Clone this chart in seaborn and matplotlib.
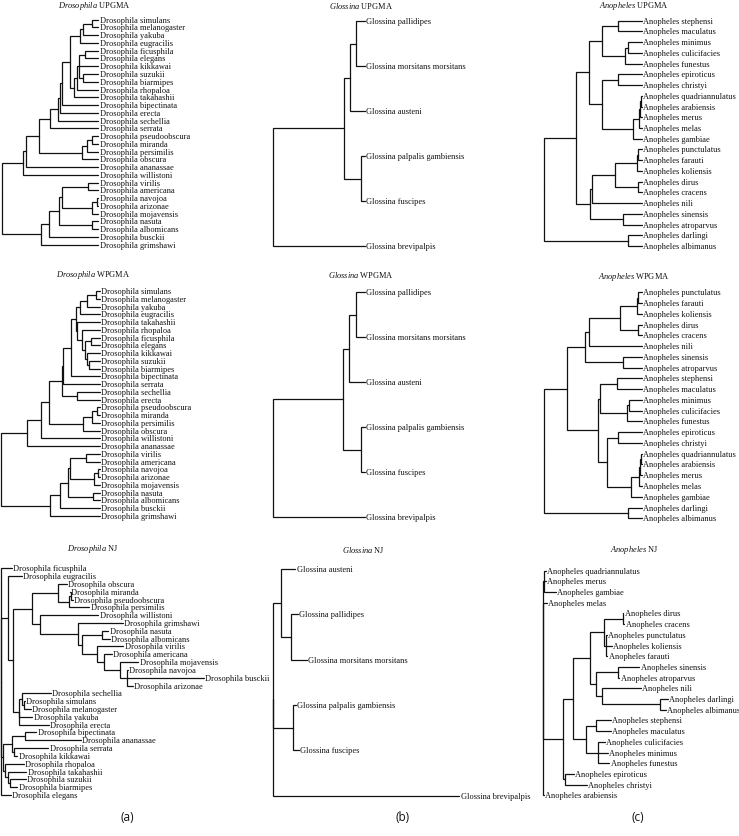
import matplotlib
matplotlib.use("Agg")
import matplotlib.pyplot as plt
import pandas as pd
import seaborn as sns

# ---------------- Drosophila UPGMA ----------------
dros_upgma_leaves = ["simulans", "melanogaster", "yakuba", "eugracilis", "ficusphila", "elegans",
                     "kikkawai", "suzukii", "biarmipes", "rhopaloa", "takahashii", "bipectinata",
                     "erecta", "sechellia", "serrata", "pseudoobscura", "miranda", "persimilis",
                     "obscura", "ananassae", "willistoni", "virilis", "americana", "navojoa",
                     "arizonae", "mojavensis", "nasuta", "albomicans", "busckii", "grimshawi"]
dros_upgma_tips = 295
dros_upgma_clades = [
    ("c1", ["simulans", "melanogaster"], 275), ("c2", ["c1", "yakuba"], 250),
    ("c3", ["c2", "eugracilis"], 240), ("c4", ["ficusphila", "elegans"], 255),
    ("c5", ["suzukii", "biarmipes"], 250), ("c6", ["c4", "kikkawai", "c5"], 238),
    ("c7", ["c6", "rhopaloa"], 230), ("c8", ["c7", "takahashii"], 223),
    ("c9", ["c3", "c8"], 210), ("c10", ["c9", "bipectinata"], 185),
    ("c11", ["c10", "erecta"], 180), ("c12", ["c11", "sechellia"], 175),
    ("c13", ["c12", "serrata"], 150), ("c14", ["pseudoobscura", "miranda"], 275),
    ("c15", ["c14", "persimilis"], 262), ("c16", ["c15", "obscura"], 245),
    ("c17", ["c13", "c16"], 118), ("c18", ["c17", "ananassae"], 78),
    ("c19", ["c18", "willistoni"], 68), ("c20", ["virilis", "americana"], 263),
    ("c21", ["navojoa", "arizonae"], 292), ("c22", ["c21", "mojavensis"], 275),
    ("c23", ["c20", "c22"], 185), ("c24", ["nasuta", "albomicans"], 275),
    ("c25", ["c23", "c24"], 178), ("c26", ["c25", "busckii"], 148),
    ("c27", ["c26", "grimshawi"], 122), ("root", ["c19", "c27"], 5),
]

# ---------------- Drosophila WPGMA ----------------
dros_wpgma_leaves = ["simulans", "melanogaster", "yakuba", "eugracilis", "takahashii", "rhopaloa",
                     "ficusphila", "elegans", "kikkawai", "suzukii", "biarmipes", "bipectinata",
                     "serrata", "sechellia", "erecta", "pseudoobscura", "miranda", "persimilis",
                     "obscura", "willistoni", "ananassae", "virilis", "americana", "navojoa",
                     "arizonae", "mojavensis", "nasuta", "albomicans", "busckii", "grimshawi"]
dros_wpgma_tips = 300
dros_wpgma_clades = [
    ("w1", ["simulans", "melanogaster"], 288), ("w2", ["w1", "yakuba"], 260),
    ("w3", ["w2", "eugracilis"], 240), ("w4", ["ficusphila", "elegans"], 272),
    ("w5", ["suzukii", "biarmipes"], 268), ("w6", ["kikkawai", "w5"], 262),
    ("w7", ["w4", "w6"], 255), ("w8", ["rhopaloa", "w7"], 245),
    ("w9", ["takahashii", "w8"], 232), ("w10", ["w3", "w9"], 228),
    ("w11", ["w10", "bipectinata"], 212), ("w12", ["w11", "serrata"], 190),
    ("w13", ["sechellia", "erecta"], 232), ("w14", ["w12", "w13"], 185),
    ("w15", ["pseudoobscura", "miranda"], 290), ("w16", ["w15", "persimilis"], 275),
    ("w17", ["w16", "obscura"], 248), ("w18", ["w14", "w17"], 148),
    ("w19", ["w18", "willistoni"], 122), ("w20", ["w19", "ananassae"], 82),
    ("w21", ["virilis", "americana"], 258), ("w22", ["navojoa", "arizonae"], 295),
    ("w23", ["w22", "mojavensis"], 282), ("w24", ["w21", "w23"], 210),
    ("w25", ["nasuta", "albomicans"], 280), ("w26", ["w24", "w25"], 205),
    ("w27", ["w26", "busckii"], 180), ("w28", ["w27", "grimshawi"], 150),
    ("root", ["w20", "w28"], 3),
]

# ---------------- Drosophila NJ ----------------
dros_nj_leaves = ["ficusphila", "eugracilis", "obscura", "miranda", "pseudoobscura", "persimilis",
                  "willistoni", "grimshawi", "nasuta", "albomicans", "virilis", "americana",
                  "mojavensis", "navojoa", "busckii", "arizonae", "sechellia", "simulans",
                  "melanogaster", "yakuba", "erecta", "bipectinata", "ananassae", "serrata",
                  "kikkawai", "rhopaloa", "takahashii", "suzukii", "biarmipes", "elegans"]
dros_nj_tips = [35, 65, 200, 210, 218, 268, 295, 368, 325, 330, 370, 335, 415, 383, 612, 398,
                152, 75, 92, 97, 147, 109, 242, 145, 52, 72, 79, 77, 52, 32]
dros_nj_clades = [
    ("n1", ["miranda", "pseudoobscura"], 212), ("n2", ["n1", "persimilis"], 207),
    ("n3", ["obscura", "n2"], 175), ("n4", ["nasuta", "albomicans"], 305),
    ("n5", ["navojoa", "busckii", "arizonae"], 380), ("n6", ["mojavensis", "n5"], 360),
    ("n7", ["americana", "n6"], 312), ("n8", ["virilis", "n7"], 292),
    ("n9", ["n4", "n8"], 245), ("n10", ["grimshawi", "n9"], 235),
    ("n11", ["willistoni", "n10"], 120), ("n12", ["n3", "n11"], 95),
    ("n13", ["simulans", "melanogaster"], 72), ("n14", ["sechellia", "n13"], 67),
    ("n15", ["n14", "yakuba", "erecta"], 57), ("n16", ["n12", "n15"], 38),
    ("n17", ["eugracilis", "n16"], 25), ("n18", ["bipectinata", "ananassae"], 75),
    ("n19", ["serrata", "kikkawai"], 42), ("n20", ["n18", "n19"], 35),
    ("n21", ["suzukii", "biarmipes"], 30), ("n22", ["takahashii", "n21"], 25),
    ("n23", ["rhopaloa", "n22"], 15), ("n24", ["n20", "n23"], 10),
    ("root", ["ficusphila", "n17", "n24", "elegans"], 3),
]

# ---------------- Glossina ----------------
gloss_upgma_leaves = ["pallidipes", "morsitans morsitans", "austeni", "palpalis gambiensis",
                      "fuscipes", "brevipalpis"]
gloss_upgma_tips = 345
gloss_upgma_clades = [
    ("g1", ["pallidipes", "morsitans morsitans"], 318), ("g2", ["g1", "austeni"], 300),
    ("g3", ["palpalis gambiensis", "fuscipes"], 333), ("g4", ["g2", "g3"], 282),
    ("root", ["g4", "brevipalpis"], 70),
]
gloss_wpgma_leaves = gloss_upgma_leaves
gloss_wpgma_tips = 345
gloss_wpgma_clades = [
    ("g1", ["pallidipes", "morsitans morsitans"], 318), ("g2", ["g1", "austeni"], 298),
    ("g3", ["palpalis gambiensis", "fuscipes"], 333), ("g4", ["g2", "g3"], 280),
    ("root", ["g4", "brevipalpis"], 70),
]
gloss_nj_leaves = ["austeni", "pallidipes", "morsitans morsitans", "palpalis gambiensis",
                   "fuscipes", "brevipalpis"]
gloss_nj_tips = [136, 143, 171, 137, 147, 628]
gloss_nj_clades = [
    ("g1", ["pallidipes", "morsitans morsitans"], 122), ("g2", ["austeni", "g1"], 93),
    ("g3", ["palpalis gambiensis", "fuscipes"], 130),
    ("root", ["g2", "g3", "brevipalpis"], 70),
]

# ---------------- Anopheles ----------------
anoph_upgma_leaves = ["stephensi", "maculatus", "minimus", "culicifacies", "funestus", "epiroticus",
                      "christyi", "quadriannulatus", "arabiensis", "merus", "melas", "gambiae",
                      "punctulatus", "farauti", "koliensis", "dirus", "cracens", "nili",
                      "sinensis", "atroparvus", "darlingi", "albimanus"]
anoph_upgma_tips = 455
anoph_upgma_clades = [
    ("a1", ["stephensi", "maculatus"], 385), ("a2", ["minimus", "culicifacies"], 415),
    ("a3", ["a2", "funestus"], 405), ("a4", ["a1", "a3"], 337),
    ("a5", ["epiroticus", "christyi"], 385), ("a6", ["quadriannulatus", "arabiensis"], 453),
    ("a7", ["a6", "merus"], 450), ("a8", ["a7", "melas"], 447),
    ("a9", ["a8", "gambiae"], 428), ("a10", ["a5", "a9"], 337),
    ("a11", ["a4", "a10"], 298), ("a12", ["punctulatus", "farauti"], 444),
    ("a13", ["a12", "koliensis"], 441), ("a14", ["dirus", "cracens"], 445),
    ("a15", ["a13", "a14"], 375), ("a16", ["a15", "nili"], 305),
    ("a17", ["sinensis", "atroparvus"], 398), ("a18", ["a16", "a17"], 300),
    ("a19", ["a11", "a18"], 258), ("a20", ["darlingi", "albimanus"], 415),
    ("root", ["a19", "a20"], 163),
]
anoph_wpgma_leaves = ["punctulatus", "farauti", "koliensis", "dirus", "cracens", "nili", "sinensis",
                      "atroparvus", "stephensi", "maculatus", "minimus", "culicifacies", "funestus",
                      "epiroticus", "christyi", "quadriannulatus", "arabiensis", "merus", "melas",
                      "gambiae", "darlingi", "albimanus"]
anoph_wpgma_tips = 455
anoph_wpgma_clades = [
    ("b1", ["punctulatus", "farauti"], 444), ("b2", ["b1", "koliensis"], 441),
    ("b3", ["dirus", "cracens"], 445), ("b4", ["b2", "b3"], 390),
    ("b5", ["b4", "nili"], 298), ("b6", ["sinensis", "atroparvus"], 398),
    ("b7", ["b5", "b6"], 285), ("b8", ["stephensi", "maculatus"], 380),
    ("b9", ["minimus", "culicifacies"], 418), ("b10", ["b9", "funestus"], 410),
    ("b11", ["b8", "b10"], 330), ("b12", ["epiroticus", "christyi"], 385),
    ("b13", ["quadriannulatus", "arabiensis"], 453), ("b14", ["b13", "merus"], 450),
    ("b15", ["b14", "melas"], 447), ("b16", ["b15", "gambiae"], 422),
    ("b17", ["b12", "b16"], 352), ("b18", ["b11", "b17"], 325),
    ("b19", ["b7", "b18"], 232), ("b20", ["darlingi", "albimanus"], 415),
    ("root", ["b19", "b20"], 163),
]
anoph_nj_leaves = ["quadriannulatus", "merus", "gambiae", "melas", "dirus", "cracens", "punctulatus",
                   "koliensis", "farauti", "sinensis", "atroparvus", "nili", "darlingi", "albimanus",
                   "stephensi", "maculatus", "culicifacies", "minimus", "funestus", "epiroticus",
                   "christyi", "arabiensis"]
anoph_nj_tips = [168, 168, 198, 170, 400, 403, 350, 366, 352, 448, 388, 453, 533, 527,
                 363, 363, 345, 353, 358, 251, 290, 162]
anoph_nj_clades = [
    ("q1", ["quadriannulatus", "merus", "gambiae"], 163), ("A", ["dirus", "cracens"], 398),
    ("B", ["punctulatus", "koliensis", "farauti"], 348), ("C", ["A", "B"], 343),
    ("D", ["sinensis", "atroparvus"], 385), ("E", ["darlingi", "albimanus"], 510),
    ("F", ["nili", "E"], 335), ("G", ["D", "F"], 318), ("H", ["C", "G"], 300),
    ("I", ["stephensi", "maculatus"], 318), ("J", ["culicifacies", "minimus", "funestus"], 325),
    ("K", ["I", "J"], 288), ("L", ["H", "K"], 248), ("M", ["epiroticus", "christyi"], 225),
    ("N", ["L", "M"], 218), ("root", ["q1", "melas", "N", "arabiensis"], 160),
]

W, H = 739, 837
sns.set_style("white")
plt.rcParams["font.family"] = ["Liberation Serif", "DejaVu Serif"]
plt.rcParams["mathtext.fontset"] = "custom"
plt.rcParams["mathtext.rm"] = "Liberation Serif"
plt.rcParams["mathtext.it"] = "Liberation Serif:italic"

fig = plt.figure(figsize=(W / 100, H / 100), dpi=100)

# (genus, method, leaves, tips, clades, left px, first leaf px, last leaf px, title x px, title y px)
panels = [
    ("Drosophila", "UPGMA", dros_upgma_leaves, dros_upgma_tips, dros_upgma_clades, 0, 20.7, 245.7, 94, 6),
    ("Glossina", "UPGMA", gloss_upgma_leaves, gloss_upgma_tips, gloss_upgma_clades, 250, 22.3, 247.3, 361, 6),
    ("Anopheles", "UPGMA", anoph_upgma_leaves, anoph_upgma_tips, anoph_upgma_clades, 490, 21.7, 247, 634, 6),
    ("Drosophila", "WPGMA", dros_wpgma_leaves, dros_wpgma_tips, dros_wpgma_clades, 0, 292, 517, 93, 275),
    ("Glossina", "WPGMA", gloss_wpgma_leaves, gloss_wpgma_tips, gloss_wpgma_clades, 250, 293.3, 518.3, 361, 275),
    ("Anopheles", "WPGMA", anoph_wpgma_leaves, anoph_wpgma_tips, anoph_wpgma_clades, 490, 293.3, 519.3, 634, 277),
    ("Drosophila", "NJ", dros_nj_leaves, dros_nj_tips, dros_nj_clades, 0, 569.3, 796, 93, 549),
    ("Glossina", "NJ", gloss_nj_leaves, gloss_nj_tips, gloss_nj_clades, 250, 570, 796.7, 363, 550),
    ("Anopheles", "NJ", anoph_nj_leaves, anoph_nj_tips, anoph_nj_clades, 490, 571.7, 796.3, 634, 550),
]


def node_positions(leaves, tips, clades):
    pos = {}
    for i, name in enumerate(leaves):
        tx = tips[i] if isinstance(tips, list) else tips
        pos[name] = (tx, i)
    for name, kids, x in clades:
        ys = [pos[k][1] for k in kids]
        pos[name] = (x, (min(ys) + max(ys)) / 2)
    return pos


def elbows(clades, pos):
    rows = []
    seg = 0
    for name, kids, x in clades:
        px, py = pos[name]
        for k in kids:
            kx, ky = pos[k]
            rows += [(seg, px, py), (seg, px, ky), (seg, kx, ky)]
            seg += 1
    return pd.DataFrame(rows, columns=["seg", "x", "y"])


for genus, method, leaves, tips, clades, left, y0, y1, tx, ty in panels:
    pos = node_positions(leaves, tips, clades)
    df = elbows(clades, pos)
    ax = fig.add_axes([left / W, 1 - y1 / H, 250 / W, (y1 - y0) / H])
    sns.lineplot(data=df, x="x", y="y", units="seg", estimator=None, sort=False,
                 color="#111111", lw=0.9, ax=ax, legend=False)
    for ln in ax.lines:
        ln.set_clip_on(False)
        ln.set_solid_joinstyle("miter")
    ax.set_xlim(0, 750)
    ax.set_ylim(len(leaves) - 1, 0)
    ax.axis("off")
    for i, name in enumerate(leaves):
        ax.text(pos[name][0] + 4, i, genus + " " + name, va="center", ha="left",
                fontsize=6, color="#111111", clip_on=False)
    fig.text(tx / W, 1 - ty / H, r"$\it{" + genus + "}$ " + method, ha="center", va="center",
             fontsize=6, color="#111111")

for lab, lx in [("(a)", 127), ("(b)", 403), ("(c)", 638)]:
    fig.text(lx / W, 1 - 818 / H, lab, ha="center", va="center", fontsize=8.5,
             family="Open Sans", color="#111111")

fig.savefig("out.png", dpi=100)
